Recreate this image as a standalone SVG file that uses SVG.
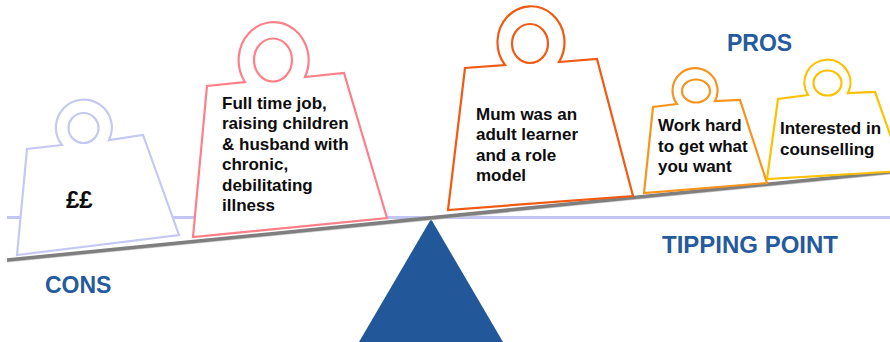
<svg xmlns="http://www.w3.org/2000/svg" width="890" height="342" viewBox="0 0 890 342">
<style>
  .w { fill: #ffffff; stroke-width: 2.2; stroke-linejoin: miter; }
  .ring { fill: #ffffff; stroke-width: 2.2; }
  .t { font-family: "Liberation Sans", Arial, sans-serif; font-weight: bold; font-size: 17px; fill: #0d0d0d; }
  .big { font-size: 24px; }
  .lbl { font-family: "Liberation Sans", Arial, sans-serif; font-weight: bold; fill: #255a9d; }
</style>
<rect width="890" height="342" fill="#ffffff"/>

<g id="tipping-line">
  <line x1="7" y1="217.5" x2="890" y2="217.5" stroke="#c3c6f3" stroke-width="3"/>
</g>

<g id="fulcrum">
  <polygon points="431,219 359,342 503,342" fill="#22589a"/>
</g>

<g id="beam">
  <line x1="7" y1="261.5" x2="890" y2="173.5" stroke="#c9c9c9" stroke-width="2"/>
  <line x1="7" y1="260" x2="890" y2="172" stroke="#7f7f7f" stroke-width="3.5"/>
</g>

<g id="weight-money">
  <path class="w" stroke="#c4c8f3" d="M17,255 L27,149 L62,145 A28,28 0 1 1 109,140 L143,135 L179,235 Z"/>
  <circle class="ring" stroke="#c4c8f3" cx="83.5" cy="128" r="15"/>
  <text class="t big" x="66" y="208">££</text>
</g>

<g id="weight-fulltime">
  <path class="w" stroke="#ff7f89" d="M193,237 L207,86 L245,82 A35,38 0 1 1 305,77 L344,73 L387,218 Z"/>
  <ellipse class="ring" stroke="#ff7f89" cx="273" cy="60" rx="19" ry="21.5"/>
  <text class="t" x="222">
    <tspan x="222" y="109">Full time job,</tspan>
    <tspan x="222" y="129.4">raising children</tspan>
    <tspan x="222" y="149.8">&amp; husband with</tspan>
    <tspan x="222" y="170.2">chronic,</tspan>
    <tspan x="222" y="190.6">debilitating</tspan>
    <tspan x="222" y="211">illness</tspan>
  </text>
</g>

<g id="weight-mum">
  <path class="w" stroke="#f05a12" stroke-width="2.6" d="M448,210 L465,68 L505,65 A33.5,36 0 1 1 559,62 L597,59 L633,196 Z"/>
  <ellipse class="ring" stroke="#f05a12" stroke-width="2.6" cx="530" cy="43.5" rx="18" ry="19.5"/>
  <text class="t">
    <tspan x="476" y="120">Mum was an</tspan>
    <tspan x="476" y="140.3">adult learner</tspan>
    <tspan x="476" y="160.6">and a role</tspan>
    <tspan x="476" y="181">model</tspan>
  </text>
</g>

<g id="weight-workhard">
  <path class="w" stroke="#f7941d" d="M644,193 L653,107 L677,104 A22.5,22.5 0 1 1 715,101 L740,100 L767,183 Z"/>
  <ellipse class="ring" stroke="#f7941d" cx="696" cy="91" rx="14" ry="11.5"/>
  <text class="t">
    <tspan x="658" y="131">Work hard</tspan>
    <tspan x="658" y="151.5">to get what</tspan>
    <tspan x="658" y="172">you want</tspan>
  </text>
</g>

<g id="weight-counselling">
  <path class="w" stroke="#ffc000" d="M767,179 L778,99 L808,95 A23,23 0 1 1 848,93 L875,92 L903,171 Z"/>
  <ellipse class="ring" stroke="#ffc000" cx="827.5" cy="83" rx="14" ry="12.5"/>
  <text class="t">
    <tspan x="780" y="134">Interested in</tspan>
    <tspan x="780" y="154.5">counselling</tspan>
  </text>
</g>

<g id="labels">
  <text class="lbl" x="45" y="293" font-size="23">CONS</text>
  <text class="lbl" x="727" y="51" font-size="23">PROS</text>
  <text class="lbl" x="662" y="253" font-size="24">TIPPING POINT</text>
</g>
</svg>
